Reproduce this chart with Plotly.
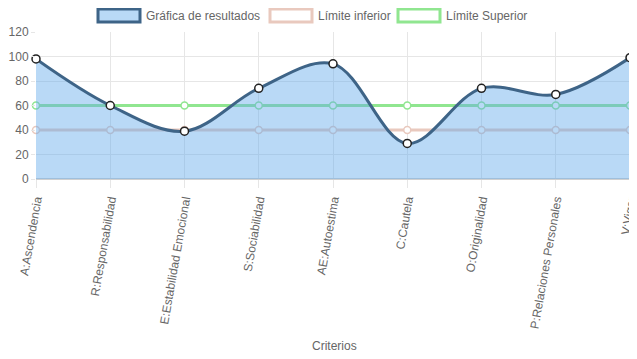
import plotly.graph_objects as go

categorias = ["A:Ascendencia", "R:Responsabilidad", "E:Estabilidad Emocional",
              "S:Sociabilidad", "AE:Autoestima", "C:Cautela", "O:Originalidad",
              "P:Relaciones Personales", "V:Vigor"]
resultados = [98, 60, 39, 74, 94, 29, 74, 69, 99]
limite_inferior = [40, 40, 40, 40, 40, 40, 40, 40, 40]
limite_superior = [60, 60, 60, 60, 60, 60, 60, 60, 60]
y_ticks = [0, 20, 40, 60, 80, 100, 120]

OFF = 8  # default page body margin
W, H = 637 - OFF, 359 - OFF
L, R, T, B = 36 - OFF, 7, 32 - OFF, 359 - 179.5
pw, ph = W - L - R, H - T - B

def px(x):
    return (x - OFF - L) / pw

def py(y):
    return (H - B - (y - OFF)) / ph

FONT = "Liberation Sans, Arial, Helvetica, sans-serif"
GRAY = "#666666"
PINK = "rgb(233,201,190)"
GREEN = "rgb(144,230,144)"
DARK = "rgb(62,100,135)"
FILL = "rgba(100,170,235,0.45)"

fig = go.Figure()
fig.add_trace(go.Scatter(
    x=categorias, y=limite_superior, mode="lines+markers", name="Límite Superior",
    line=dict(color=GREEN, width=3), cliponaxis=False,
    marker=dict(size=7, color="white", line=dict(color=GREEN, width=1.5)),
    showlegend=False))
fig.add_trace(go.Scatter(
    x=categorias, y=limite_inferior, mode="lines+markers", name="Límite inferior",
    line=dict(color=PINK, width=3), cliponaxis=False,
    marker=dict(size=7, color="white", line=dict(color=PINK, width=1.5)),
    showlegend=False))
fig.add_trace(go.Scatter(
    x=categorias, y=resultados, mode="lines+markers", name="Gráfica de resultados",
    line=dict(color=DARK, width=3, shape="spline", smoothing=1.0),
    fill="tozeroy", fillcolor=FILL, cliponaxis=False,
    marker=dict(size=8, color="white", line=dict(color="#222222", width=1.5)),
    showlegend=False))

# custom legend (Chart.js style boxes)
legend = [
    ("Gráfica de resultados", 98, FILL, DARK),
    ("Límite inferior", 270, "white", PINK),
    ("Límite Superior", 398, "white", GREEN),
]
shapes = []
annotations = []
for name, x0, fc, lc in legend:
    shapes.append(dict(type="rect", xref="paper", yref="paper",
                       x0=px(x0), x1=px(x0 + 42), y0=py(22), y1=py(9),
                       fillcolor=fc, line=dict(color=lc, width=3)))
    annotations.append(dict(xref="paper", yref="paper", x=px(x0 + 46), y=py(15.5),
                            text=name, showarrow=False, xanchor="left", yanchor="middle",
                            font=dict(family=FONT, size=12, color=GRAY)))
annotations.append(dict(xref="paper", yref="paper", x=px(334.5), y=py(347),
                        text="Criterios", showarrow=False, xanchor="center", yanchor="middle",
                        font=dict(family=FONT, size=12, color=GRAY)))

fig.update_layout(
    width=W, height=H, margin=dict(l=L, r=R, t=T, b=B, autoexpand=False),
    paper_bgcolor="white", plot_bgcolor="white",
    font=dict(family=FONT, size=12, color=GRAY),
    shapes=shapes, annotations=annotations, showlegend=False,
    xaxis=dict(type="category", range=[0, len(categorias) - 1], automargin=False,
               showgrid=True, gridcolor="#e6e6e6", gridwidth=1,
               ticks="outside", ticklen=8, tickcolor="#e6e6e6",
               tickangle=-80, tickfont=dict(family=FONT, size=12, color=GRAY),
               showline=False, zeroline=False),
    yaxis=dict(range=[0, 120], tickvals=y_ticks, automargin=False,
               showgrid=True, gridcolor="#e6e6e6", gridwidth=1,
               ticks="outside", ticklen=4, tickcolor="#e6e6e6",
               tickfont=dict(family=FONT, size=12, color=GRAY),
               zeroline=True, zerolinecolor="#d0d0d0", zerolinewidth=2,
               showline=False),
)

fig.write_html("out.html")
